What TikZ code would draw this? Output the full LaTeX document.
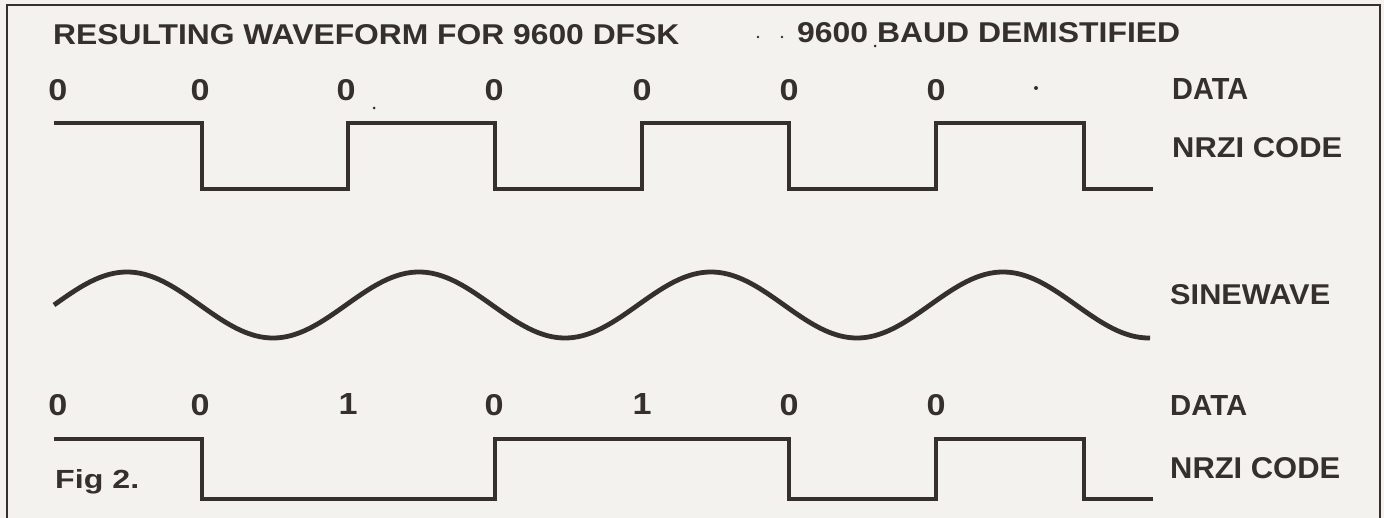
\documentclass[tikz,border=0pt]{standalone}
\usepackage{fontspec}
\setmainfont{Liberation Sans}
\usepackage{graphicx}
\definecolor{ink}{HTML}{35302E}
\definecolor{paper}{HTML}{F3F2EE}
\tikzset{
  wave/.style={draw=ink, line width=4.8pt, line join=miter},
  frameline/.style={draw=ink, line width=2.8pt},
  lbl/.style={inner sep=0pt, anchor=base west, text=ink, font=\bfseries},
  digit/.style={inner sep=0pt, anchor=base, text=ink, font=\bfseries},
  speck/.style={fill=ink, draw=none}
}
\newcommand{\fitto}[3]{\resizebox{#1pt}{#2pt}{#3}}
\newcommand{\dig}[1]{\fitto{19}{21}{#1}}
\begin{document}
\begin{tikzpicture}[x=1pt,y=-1pt]
\fill[paper] (0,0) rectangle (1384,518);
\useasboundingbox (0,0) rectangle (1384,518);
\draw[frameline] (7,522) -- (7,5) -- (1380,5) -- (1380,522);

% titles
\node[lbl] (title1) at (53,45) {\fitto{626}{20}{RESULTING WAVEFORM FOR 9600 DFSK}};
\node[lbl] (title2) at (797,43) {\fitto{383}{20}{9600 BAUD DEMISTIFIED}};
\fill[speck] (758,37) circle (1.3);
\fill[speck] (782,37) circle (1.3);
\fill[speck] (875,46) circle (1.5);
\fill[speck] (374,108) circle (1.5);
\fill[speck] (1036,88) circle (2);

% top data row
\foreach \x [count=\i] in {58,200,346,494,642,789,936}
  \node[digit] (d1\i) at (\x,101) {\dig{0}};
\node[lbl] (data1) at (1172,100) {\fitto{76}{21}{DATA}};
\node[lbl] (nrzi1) at (1172,158) {\fitto{170}{20}{NRZI CODE}};

% top NRZI waveform
\draw[wave] (54,123) -- (202,123) -- (202,189) -- (348,189) -- (348,123)
  -- (495,123) -- (495,189) -- (642,189) -- (642,123) -- (789,123)
  -- (789,189) -- (936,189) -- (936,123) -- (1084,123) -- (1084,189)
  -- (1153,189);

% sinewave
\draw[wave] plot[domain=54:1150, samples=240, smooth]
  (\x, {305 - 33*sin((\x-54)/292*360)});
\node[lbl] (sine) at (1170,305) {\fitto{160}{20}{SINEWAVE}};

% bottom data row
\foreach \x/\b [count=\i] in {58/0,200/0,348/1,494/0,642/1,789/0,936/0}
  \node[digit] (d2\i) at (\x,415) {\dig{\b}};
\node[lbl] (data2) at (1170,415) {\fitto{77}{20}{DATA}};
\node[lbl] (nrzi2) at (1170,478) {\fitto{170}{21}{NRZI CODE}};

% bottom NRZI waveform
\draw[wave] (54,439) -- (202,439) -- (202,499) -- (495,499) -- (495,439)
  -- (789,439) -- (789,499) -- (936,499) -- (936,439) -- (1084,439)
  -- (1084,499) -- (1153,499);

\node[lbl] (fig) at (55,488) {\fitto{84}{19}{Fig 2.}};
\end{tikzpicture}
\end{document}
